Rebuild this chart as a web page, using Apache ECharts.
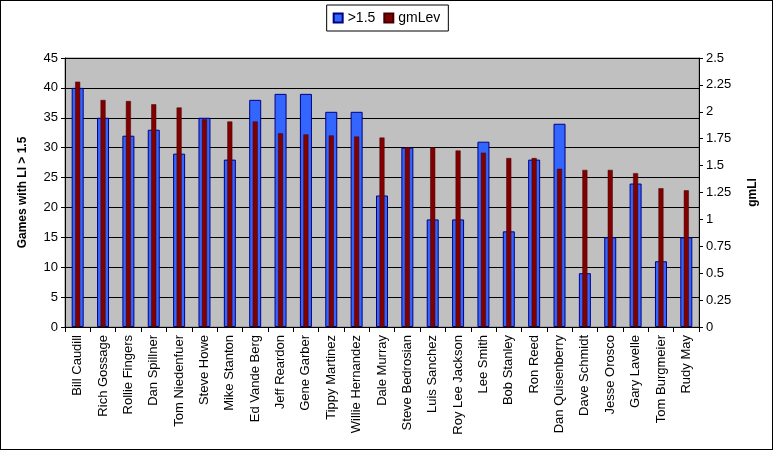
<!DOCTYPE html>
<html><head><meta charset="utf-8">
<script src="https://cdn.jsdelivr.net/npm/echarts@6/dist/echarts.min.js"></script>
<style>html,body{margin:0;padding:0;background:#fff}#c{width:771px;height:448px;border:1px solid #000}</style>
</head><body><div id="c"></div>
<script>
const categories = ["Bill Caudill","Rich Gossage","Rollie Fingers","Dan Spillner","Tom Niedenfuer","Steve Howe","Mike Stanton","Ed Vande Berg","Jeff Reardon","Gene Garber","Tippy Martinez","Willie Hernandez","Dale Murray","Steve Bedrosian","Luis Sanchez","Roy Lee Jackson","Lee Smith","Bob Stanley","Ron Reed","Dan Quisenberry","Dave Schmidt","Jesse Orosco","Gary Lavelle","Tom Burgmeier","Rudy May"];
const gamesLI = [40,35,32,33,29,35,28,38,39,39,36,36,22,30,18,18,31,16,28,34,9,15,24,11,15];
const gmLev = [2.28,2.11,2.10,2.07,2.04,1.93,1.91,1.91,1.80,1.79,1.78,1.77,1.76,1.67,1.67,1.64,1.62,1.57,1.57,1.47,1.46,1.46,1.43,1.29,1.27];
const seriesNames = [">1.5","gmLev"];
const font = "Liberation Sans, Arial, sans-serif";
const chart = echarts.init(document.getElementById('c'));
chart.setOption({
  animation:false,
  textStyle:{fontFamily:font},
  legend:{
    top:4, left:'center', itemWidth:9, itemHeight:9, itemGap:8,
    borderColor:'#000', borderWidth:1, padding:[6,8,6,6], backgroundColor:'#fff',
    textStyle:{fontSize:14, color:'#000', fontFamily:font},
    data:[{name:seriesNames[0],icon:'rect'},{name:seriesNames[1],icon:'rect'}]
  },
  grid:{left:64, right:73, top:57, bottom:122, show:true, backgroundColor:'#C0C0C0', borderColor:'#808080', borderWidth:1},
  xAxis:[
    {type:'category', data:categories, axisLine:{lineStyle:{color:'#000'}},
     axisTick:{show:true, length:5, lineStyle:{color:'#000'}},
     axisLabel:{rotate:90, fontSize:13, color:'#000', fontFamily:font, margin:8, interval:0}},
    {type:'category', data:categories, show:false}
  ],
  yAxis:[
    {type:'value', min:0, max:45, interval:5, position:'left',
     name:'Games with LI > 1.5', nameLocation:'middle', nameGap:36, nameRotate:90,
     nameTextStyle:{fontSize:12, fontWeight:'bold', color:'#000', fontFamily:font},
     axisLine:{show:true, lineStyle:{color:'#000'}}, axisTick:{show:true, length:4, lineStyle:{color:'#000'}},
     axisLabel:{fontSize:13, color:'#000', margin:7, fontFamily:font},
     splitLine:{show:true, lineStyle:{color:'#000', width:1}}},
    {type:'value', min:0, max:2.5, interval:0.25, position:'right',
     name:'gmLI', nameLocation:'middle', nameGap:48, nameRotate:90,
     nameTextStyle:{fontSize:12, fontWeight:'bold', color:'#000', fontFamily:font},
     axisLine:{show:true, lineStyle:{color:'#000'}}, axisTick:{show:true, length:4, lineStyle:{color:'#000'}},
     axisLabel:{fontSize:13, color:'#000', margin:7, fontFamily:font},
     splitLine:{show:false}}
  ],
  series:[
    {name:seriesNames[0], type:'bar', data:gamesLI, xAxisIndex:0, yAxisIndex:0, barWidth:12,
     itemStyle:{color:'#3366FF', borderColor:'#000080', borderWidth:1}},
    {name:seriesNames[1], type:'bar', data:gmLev, xAxisIndex:1, yAxisIndex:1, barWidth:5,
     itemStyle:{color:'#800000', borderColor:'#400000', borderWidth:0.5}}
  ]
});
</script></body></html>
